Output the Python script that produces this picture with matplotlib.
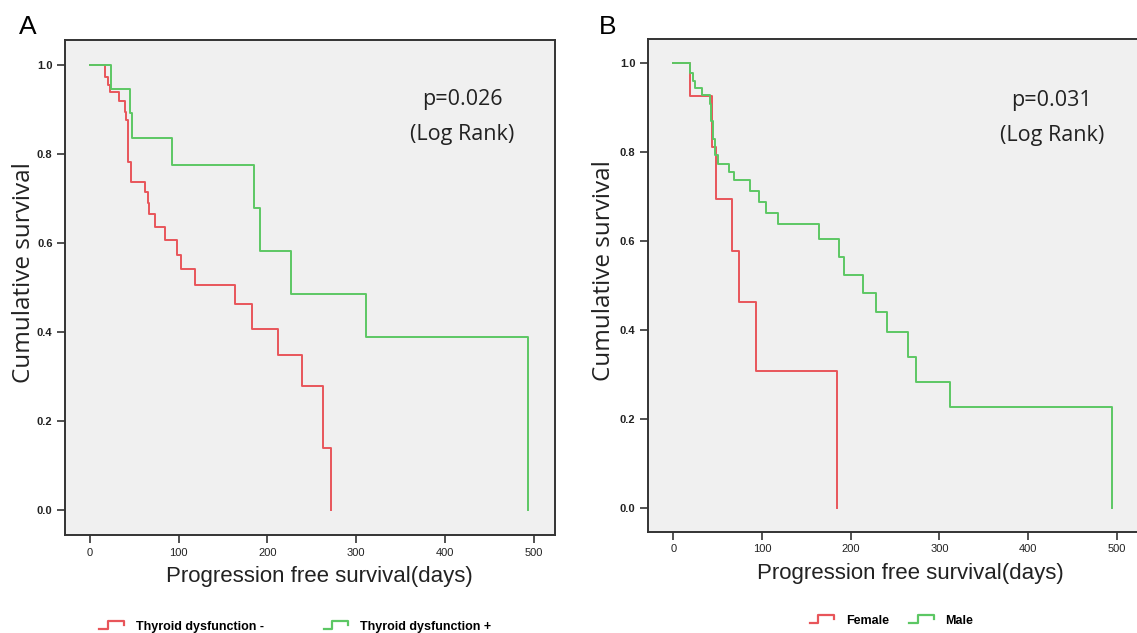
import matplotlib
matplotlib.use('Agg')
import matplotlib.pyplot as plt
from matplotlib.lines import Line2D
from matplotlib.legend_handler import HandlerBase

# ------------------------------------------------------------------
# data

# A : thyroid dysfunction
a_neg_days = [0, 17, 20, 22, 33, 39, 41, 43, 46, 62, 65, 67, 73, 84.5, 97.5, 103, 118, 163.5, 183, 212, 239, 263, 272]
a_neg_surv = [1.0, 0.972, 0.955, 0.94, 0.918, 0.895, 0.876, 0.783, 0.738, 0.715, 0.69, 0.665, 0.636, 0.607,
              0.573, 0.541, 0.506, 0.464, 0.406, 0.348, 0.279, 0.14, 0.0]
a_pos_days = [0, 24, 45, 47, 92, 185, 191.5, 226.5, 311, 494]
a_pos_surv = [1.0, 0.947, 0.893, 0.835, 0.775, 0.679, 0.583, 0.485, 0.389, 0.0]

# B : sex
b_fem_days = [0, 19, 44, 48, 66, 74, 93, 185]
b_fem_surv = [1.0, 0.927, 0.812, 0.696, 0.579, 0.464, 0.309, 0.0]
b_male_days = [0, 19, 22, 25, 32, 41, 43, 45, 47, 50, 63, 68, 86, 97, 104.5, 118, 164.5, 186.5, 192,
               213.5, 228, 241, 264.5, 273.5, 312, 495]
b_male_surv = [1.0, 0.978, 0.96, 0.945, 0.93, 0.91, 0.87, 0.83, 0.794, 0.775, 0.757, 0.737, 0.713, 0.689,
               0.665, 0.64, 0.606, 0.565, 0.525, 0.484, 0.441, 0.397, 0.341, 0.284, 0.228, 0.0]

x_ticks = [0, 100, 200, 300, 400, 500]
y_ticks = [0.0, 0.2, 0.4, 0.6, 0.8, 1.0]

RED = '#e8555a'
GREEN = '#5cc764'
narrow = ['Liberation Sans Narrow', 'Liberation Sans', 'DejaVu Sans']
plt.rcParams['font.family'] = ['Open Sans', 'DejaVu Sans']


class StepHandler(HandlerBase):
    # little step glyph used by SPSS legends
    def create_artists(self, legend, orig_handle, xdescent, ydescent, width, height, fontsize, trans):
        xs = [0.0, 0.3, 0.3, 0.85, 0.85]
        ys = [0.2, 0.2, 0.95, 0.95, 0.55]
        line = Line2D([-xdescent + width * x for x in xs],
                      [-ydescent + height * y for y in ys],
                      color=orig_handle.get_color(), lw=1.6)
        line.set_transform(trans)
        return [line]


def km_panel(ax, curves, labels, xlim, ylim, ptext, pxy, xlab_x, ylab_x, leg_xy, colsp):
    ax.set_facecolor('#f0f0f0')
    handles = []
    for (d, s), c in zip(curves, [RED, GREEN]):
        ax.step(d, s, where='post', color=c, lw=1.4)
        handles.append(Line2D([], [], color=c))
    ax.set_xlim(*xlim)
    ax.set_ylim(*ylim)
    ax.set_xticks(x_ticks)
    ax.set_yticks(y_ticks)
    ax.set_xticklabels([str(t) for t in x_ticks], family=narrow, fontsize=8, color='#222')
    ax.set_yticklabels(['%.1f' % t for t in y_ticks], family=narrow, fontsize=8, color='#222',
                       fontweight='bold')
    ax.tick_params(axis='both', direction='out', length=6, width=1.2, color='#333', pad=3)
    for sp in ax.spines.values():
        sp.set_color('#333')
        sp.set_linewidth(1.4)
    ax.set_xlabel('Progression free survival(days)', fontsize=16, family=narrow, color='#222')
    ax.xaxis.set_label_coords(xlab_x, -0.062)
    ax.set_ylabel('Cumulative survival', fontsize=17.5, color='#222')
    ax.yaxis.set_label_coords(ylab_x, 0.53)
    ax.text(pxy[0], pxy[1], ptext, transform=ax.transAxes, ha='center', va='center',
            fontsize=15.5, color='#222', linespacing=1.9)
    ax.legend(handles, labels, handler_map={Line2D: StepHandler()}, loc='center',
              bbox_to_anchor=leg_xy, ncol=2, frameon=False, handlelength=2.3,
              handleheight=0.9, columnspacing=colsp, handletextpad=0.6,
              prop={'family': narrow, 'size': 9, 'weight': 'bold'})


fig = plt.figure(figsize=(11.37, 6.33), dpi=100)
W, H = 1137, 633
axA = fig.add_axes([65 / W, 1 - 535 / H, 490 / W, 495 / H])
axB = fig.add_axes([648 / W, 1 - 532 / H, 492 / W, 493 / H])

km_panel(axA, [(a_neg_days, a_neg_surv), (a_pos_days, a_pos_surv)],
         ['Thyroid dysfunction -', 'Thyroid dysfunction +'],
         (-28.2, 524.2), (-0.056, 1.056), 'p=0.026\n(Log Rank)', (0.81, 0.845),
         0.52, -0.06, (0.47, -0.186), 4.8)
km_panel(axB, [(b_fem_days, b_fem_surv), (b_male_days, b_male_surv)],
         ['Female', 'Male'],
         (-28.5, 526), (-0.053, 1.055), 'p=0.031\n(Log Rank)', (0.821, 0.84),
         0.533, -0.065, (0.495, -0.18), 1.6)

fig.text(28 / W, 1 - 27 / H, 'A', fontsize=19, ha='center', va='center', family=['Liberation Sans', 'DejaVu Sans'])
fig.text(608 / W, 1 - 27 / H, 'B', fontsize=19, ha='center', va='center', family=['Liberation Sans', 'DejaVu Sans'])

plt.savefig('out.png', dpi=100, facecolor='white')
